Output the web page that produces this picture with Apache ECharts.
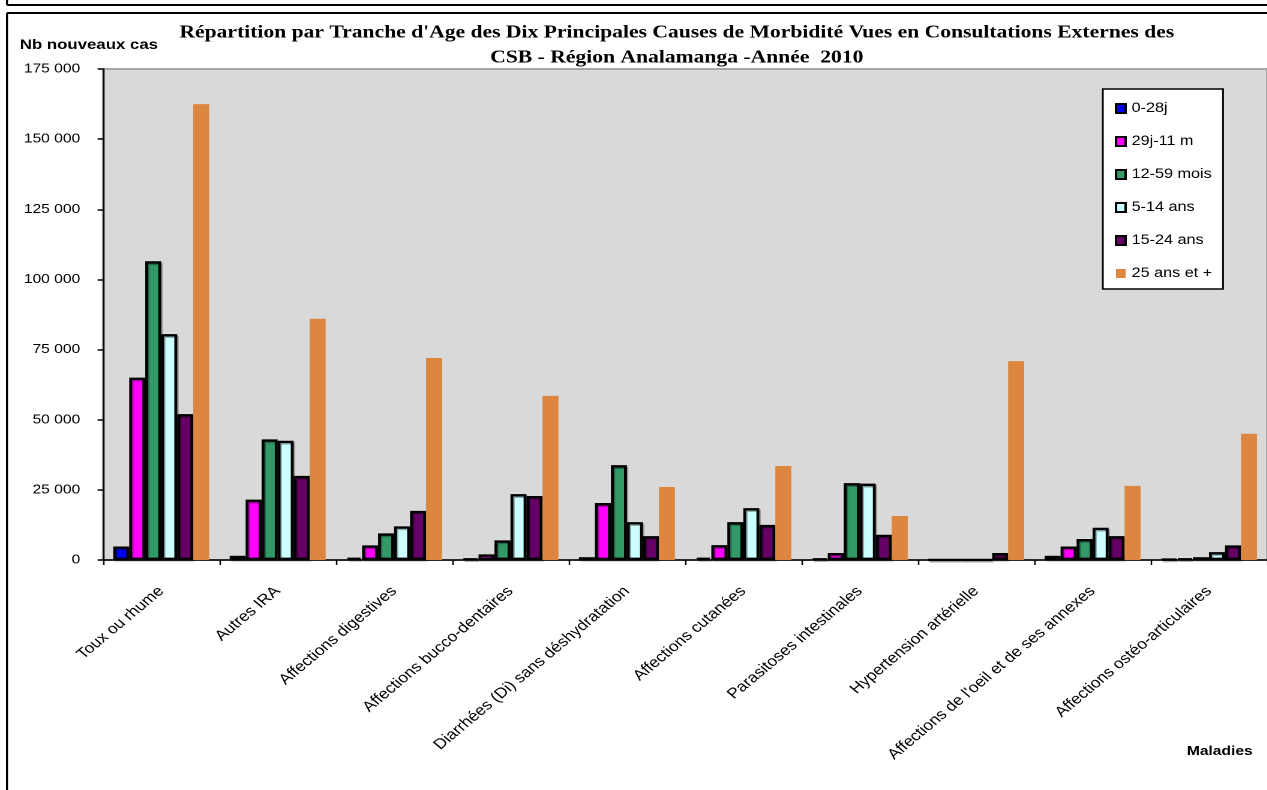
<!DOCTYPE html>
<html>
<head>
<meta charset="utf-8">
<script src="https://cdn.jsdelivr.net/npm/echarts@6/dist/echarts.min.js"></script>
<style>
html,body{margin:0;padding:0;background:#fff;overflow:hidden;}
/* the reference picture is a horizontally stretched (x1.2) Excel chart */
#chart{width:1055.83px;height:790px;transform:scaleX(1.2);transform-origin:0 0;}
</style>
</head>
<body>
<div id="chart"></div>
<script>
const categories = ["Toux ou rhume","Autres IRA","Affections digestives","Affections bucco-dentaires","Diarrhées (Di) sans déshydratation","Affections cutanées","Parasitoses intestinales","Hypertension artérielle","Affections de l'oeil et de ses annexes","Affections ostéo-articulaires"];
const seriesNames = ["0-28j","29j-11 m","12-59 mois","5-14 ans","15-24 ans","25 ans et +"];
const s0_28j   = [4800, 1500, 800, 500, 1000, 800, 500, 50, 1500, 300];
const s29j_11m = [65000, 21500, 5200, 2000, 20300, 5300, 2500, 50, 4800, 500];
const s12_59m  = [106500, 43000, 9500, 7000, 33800, 13500, 27400, 50, 7500, 1000];
const s5_14    = [80500, 42500, 12000, 23500, 13500, 18500, 27200, 50, 11500, 2800];
const s15_24   = [52000, 30000, 17500, 22800, 8500, 12500, 9000, 2500, 8500, 5200];
const s25plus  = [162500, 86000, 72000, 58500, 26000, 33500, 15700, 70900, 26400, 45000];
const yTicks = [0, 25000, 50000, 75000, 100000, 125000, 150000, 175000];

const colors = ["#0000FF","#FF00FF","#339966","#CCFFFF","#660066","#DD8640"];
const allData = [s0_28j, s29j_11m, s12_59m, s5_14, s15_24, s25plus];

const chart = echarts.init(document.getElementById('chart'), null, {renderer:'canvas', devicePixelRatio: 2});

const series = allData.map((d, i) => ({
  name: seriesNames[i],
  type: 'bar',
  data: d,
  barWidth: 13.33,
  barGap: '0%',
  itemStyle: i < 5 ? {
    color: colors[i], borderColor: '#000', borderWidth: 2.4,
    shadowColor: 'rgba(0,0,0,0.3)', shadowOffsetX: 1.2, shadowOffsetY: 1.5, shadowBlur: 0
  } : { color: colors[i], borderWidth: 0 },
  emphasis: { disabled: true }
}));

chart.setOption({
  animation: false,
  backgroundColor: '#fff',
  title: [
    { text: "Répartition par Tranche d'Age des Dix Principales Causes de Morbidité Vues en Consultations Externes des",
      left: 559, top: 19, textAlign: 'center',
      textStyle: { fontFamily: 'Liberation Serif', fontWeight: 'bold', fontSize: 18, color: '#000' } },
    { text: "CSB - Région Analamanga -Année  2010",
      left: 559, top: 44, textAlign: 'center',
      textStyle: { fontFamily: 'Liberation Serif', fontWeight: 'bold', fontSize: 18, color: '#000' } }
  ],
  legend: {
    orient: 'vertical',
    left: 919, top: 89,
    backgroundColor: '#fff',
    borderColor: '#000', borderWidth: 1.5,
    padding: [12, 9, 8, 10],
    itemWidth: 8, itemHeight: 9, itemGap: 18, itemTextGap: 2.5,
    icon: 'rect',
    textStyle: { fontFamily: 'Liberation Sans', fontSize: 13.5, color: '#000', lineHeight: 15 },
    data: seriesNames
  },
  grid: {
    left: 85.83, top: 69, width: 978.33, height: 491,
    show: true, backgroundColor: '#D9D9D9', borderColor: '#A6A6A6', borderWidth: 2
  },
  xAxis: {
    type: 'category',
    data: categories,
    axisLine: { lineStyle: { color: '#000', width: 1.5 } },
    axisTick: { show: true, length: 5, lineStyle: { color: '#000', width: 1.25 } },
    axisLabel: { interval: 0, rotate: 45, margin: 29, fontFamily: 'Liberation Sans', fontSize: 14.5, color: '#000' },
    splitLine: { show: false }
  },
  yAxis: {
    type: 'value',
    min: yTicks[0], max: yTicks[yTicks.length - 1], interval: yTicks[1] - yTicks[0],
    axisLine: { show: true, lineStyle: { color: '#000', width: 1.25 } },
    axisTick: { show: true, length: 4.5, lineStyle: { color: '#000', width: 1.5 } },
    axisLabel: { margin: 19, fontFamily: 'Liberation Sans', fontSize: 13, color: '#000',
      formatter: v => String(v).replace(/\B(?=(\d{3})+(?!\d))/g, ' ') },
    splitLine: { show: false }
  },
  graphic: [
    { type: 'line', shape: { x1: 5.83, y1: 0, x2: 5.83, y2: 5 }, style: { stroke: '#000', lineWidth: 1.67 } },
    { type: 'line', shape: { x1: 5.83, y1: 5, x2: 1056, y2: 5 }, style: { stroke: '#000', lineWidth: 2 } },
    { type: 'line', shape: { x1: 5.83, y1: 13, x2: 1056, y2: 13 }, style: { stroke: '#000', lineWidth: 2 } },
    { type: 'line', shape: { x1: 5.83, y1: 13, x2: 5.83, y2: 790 }, style: { stroke: '#000', lineWidth: 1.67 } },
    { type: 'text', left: 16.5, top: 38, style: { text: 'Nb nouveaux cas', fontFamily: 'Liberation Sans', fontWeight: 'bold', fontSize: 14, fill: '#000' } },
    { type: 'text', left: 989, top: 745, style: { text: 'Maladies', fontFamily: 'Liberation Sans', fontWeight: 'bold', fontSize: 13, fill: '#000' } }
  ],
  series: series
});
</script>
</body>
</html>
